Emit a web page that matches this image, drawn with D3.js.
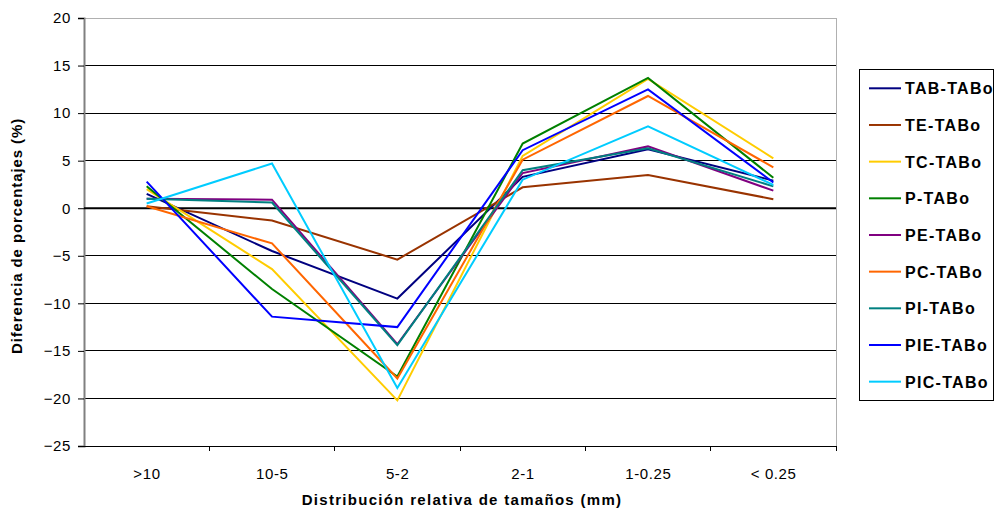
<!DOCTYPE html>
<html><head><meta charset="utf-8">
<script src="https://cdn.jsdelivr.net/npm/d3@7"></script>
<style>html,body{margin:0;padding:0;background:#fff;}svg{display:block;font-family:"Liberation Sans",Arial,sans-serif;}</style>
</head><body>
<svg id="chart" width="995" height="512"></svg>
<script>
const categories = [">10", "10-5", "5-2", "2-1", "1-0.25", "< 0.25"];
const seriesNames = ["TAB-TABo","TE-TABo","TC-TABo","P-TABo","PE-TABo","PC-TABo","PI-TABo","PIE-TABo","PIC-TABo"];
const seriesColors = ["#000080","#993300","#FFCC00","#008000","#800080","#FF6600","#008080","#0000FF","#00CCFF"];
const TAB = [1.5, -4.5, -9.5, 3.3, 6.2, 2.9];
const TE  = [0.2, -1.3, -5.4, 2.2, 3.5, 0.95];
const TC  = [2.0, -6.4, -20.2, 5.5, 13.6, 5.25];
const P   = [2.3, -8.5, -17.7, 6.8, 13.7, 3.2];
const PE  = [1.0, 0.9, -14.3, 3.7, 6.5, 1.85];
const PC  = [0.2, -3.7, -17.9, 5.1, 11.8, 4.3];
const PI  = [1.0, 0.6, -14.4, 4.0, 6.3, 2.3];
const PIE = [2.8, -11.4, -12.5, 6.1, 12.5, 2.7];
const PIC = [0.5, 4.7, -18.9, 3.0, 8.6, 2.45];
const seriesValues = [TAB, TE, TC, P, PE, PC, PI, PIE, PIC];
const yTicks = [20, 15, 10, 5, 0, -5, -10, -15, -20, -25];

const svg = d3.select("#chart");
const L = 84, R = 836, T = 18, B = 446;
const x = d3.scaleBand().domain(categories).range([L, R]).paddingInner(0).paddingOuter(0);
const y = d3.scaleLinear().domain([-25, 20]).range([B, T]);
const xc = c => x(c) + x.bandwidth() / 2;

// gridlines
svg.append("g").selectAll("line").data(yTicks.filter(v => v !== 20 && v !== -25 && v !== 0))
  .join("line").attr("x1", L).attr("x2", R).attr("y1", d => y(d)).attr("y2", d => y(d))
  .attr("stroke", "#000").attr("stroke-width", 1).attr("shape-rendering", "crispEdges");
// plot border top/right gray
svg.append("line").attr("x1", L).attr("x2", R).attr("y1", y(20)).attr("y2", y(20)).attr("stroke", "#b0b0b0").attr("shape-rendering","crispEdges");
svg.append("line").attr("x1", R).attr("x2", R).attr("y1", T).attr("y2", B).attr("stroke", "#b0b0b0").attr("shape-rendering","crispEdges");

// y axis
const yAxis = d3.axisLeft(y).tickValues(yTicks).tickSize(6).tickPadding(7).tickFormat(d3.format("d"));
const gy = svg.append("g").attr("transform", `translate(${L},0)`).call(yAxis);
gy.select(".domain").attr("stroke", "#808080").attr("stroke-width", 2);
gy.selectAll(".tick line").attr("stroke", "#000");
gy.selectAll(".tick text").attr("font-size", 15).attr("letter-spacing", 0.6).attr("fill", "#000")
  .attr("font-family", "Liberation Sans, Arial, sans-serif");

// x axis (ticks at category boundaries)
const gx = svg.append("g").attr("transform", `translate(0,${B})`);
gx.append("line").attr("x1", L).attr("x2", R).attr("y1", 0).attr("y2", 0).attr("stroke", "#000").attr("shape-rendering","crispEdges");
gx.selectAll("line.tk").data(categories.slice(1).concat(["__end"])).join("line").attr("class","tk")
  .attr("x1", d => d === "__end" ? R : x(d)).attr("x2", d => d === "__end" ? R : x(d))
  .attr("y1", 0).attr("y2", 5).attr("stroke", "#000").attr("shape-rendering","crispEdges");
gx.selectAll("text").data(categories).join("text")
  .attr("x", d => xc(d) + 0.3).attr("y", 33).attr("text-anchor", "middle")
  .attr("font-size", 15).attr("letter-spacing", 0.6).attr("fill", "#000").text(d => d);

// zero line
svg.append("line").attr("x1", L).attr("x2", R).attr("y1", y(0)).attr("y2", y(0))
  .attr("stroke", "#000").attr("stroke-width", 2);

// series lines
const line = d3.line().x((d, i) => xc(categories[i])).y(d => y(d));
svg.append("g").selectAll("path").data(seriesValues).join("path")
  .attr("d", d => line(d)).attr("fill", "none")
  .attr("stroke", (d, i) => seriesColors[i]).attr("stroke-width", 2).attr("stroke-linejoin", "miter");

// axis titles
svg.append("text").attr("transform", `translate(22,${(T + B) / 2 + 4}) rotate(-90)`)
  .attr("text-anchor", "middle").attr("font-size", 15).attr("font-weight", "bold").attr("letter-spacing", 0.9)
  .text("Diferencia de porcentajes (%)");
svg.append("text").attr("x", (L + R) / 2 + 2).attr("y", 505).attr("text-anchor", "middle")
  .attr("font-size", 15).attr("font-weight", "bold").attr("letter-spacing", 1.3).text("Distribución relativa de tamaños (mm)");

// legend
const lg = svg.append("g");
lg.append("rect").attr("x", 859.5).attr("y", 69.5).attr("width", 134).attr("height", 331)
  .attr("fill", "#fff").attr("stroke", "#000").attr("stroke-width", 1);
const items = lg.selectAll("g.item").data(seriesNames).join("g").attr("class", "item")
  .attr("transform", (d, i) => `translate(0,${88.3 + i * 36.67})`);
items.append("line").attr("x1", 869).attr("x2", 901).attr("y1", 0).attr("y2", 0)
  .attr("stroke", (d, i) => seriesColors[i]).attr("stroke-width", 2);
items.append("text").attr("x", 905).attr("y", 6).attr("font-size", 16).attr("font-weight", "bold")
  .attr("letter-spacing", 1.3).text(d => d);
</script>
</body></html>
